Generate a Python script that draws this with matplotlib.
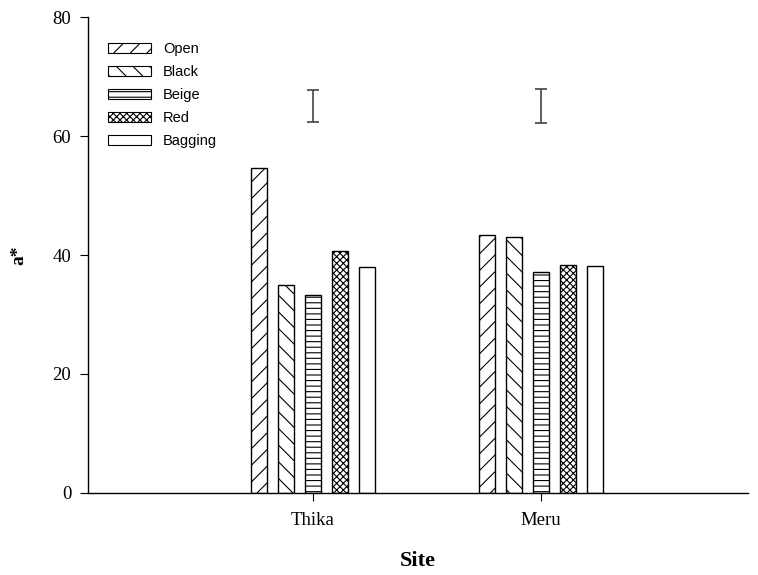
import numpy as np
import matplotlib.pyplot as plt
from matplotlib.patches import Patch

# a* colour values per bag treatment at each site
sites = ["Thika", "Meru"]
treatments = ["Open", "Black", "Beige", "Red", "Bagging"]
open_vals = [54.6, 43.4]
black_vals = [35.0, 43.0]
beige_vals = [33.2, 37.2]
red_vals = [40.7, 38.3]
bagging_vals = [38.0, 38.1]

# LSD-style error bar drawn above each site
err_centre = [65.05, 65.0]
err_half = [2.75, 2.85]

hatches = ["//", "\\\\", "---", "xxxxx", ""]

plt.rcParams["hatch.linewidth"] = 0.8
plt.rcParams["font.family"] = "Liberation Serif"

fig = plt.figure(figsize=(7.58, 5.75), dpi=100)
ax = fig.add_axes([0.116, 0.143, 0.871, 0.827])

x = np.arange(1, len(sites) + 1)
width = 0.07
step = 0.118
series = [open_vals, black_vals, beige_vals, red_vals, bagging_vals]
for i, (vals, h) in enumerate(zip(series, hatches)):
    pos = x + (i - 2) * step
    ax.bar(pos, vals, width=width, color="white", edgecolor="black",
           linewidth=1.0, hatch=h)

ax.errorbar(x, err_centre, yerr=err_half, fmt="none", ecolor="#444444",
            elinewidth=1.2, capsize=4.5, capthick=1.2)

ax.set_xlim(0.013, 2.908)
ax.set_ylim(0, 80)
ax.set_yticks([0, 20, 40, 60, 80])
ax.set_xticks(x)
ax.set_xticklabels(sites)
ax.tick_params(axis="both", direction="out", length=6, width=0.8,
               labelsize=13.5)
ax.tick_params(axis="y", pad=6)
ax.tick_params(axis="x", pad=8)
for side in ["top", "right"]:
    ax.spines[side].set_visible(False)
for side in ["left", "bottom"]:
    ax.spines[side].set_linewidth(1.0)

ax.set_ylabel("a*", fontsize=14, fontweight="bold", labelpad=18)
ax.set_xlabel("Site", fontsize=16, fontweight="bold", labelpad=16)

handles = [Patch(facecolor="white", edgecolor="black", linewidth=0.8, hatch=h)
           for h in hatches]
ax.legend(handles, treatments, loc="upper left", bbox_to_anchor=(0.01, 0.975),
          frameon=False, handlelength=3.0, handleheight=0.67,
          labelspacing=0.62, handletextpad=0.8,
          prop={"family": "Liberation Sans", "size": 10.5})

fig.savefig("out.png", dpi=100)
